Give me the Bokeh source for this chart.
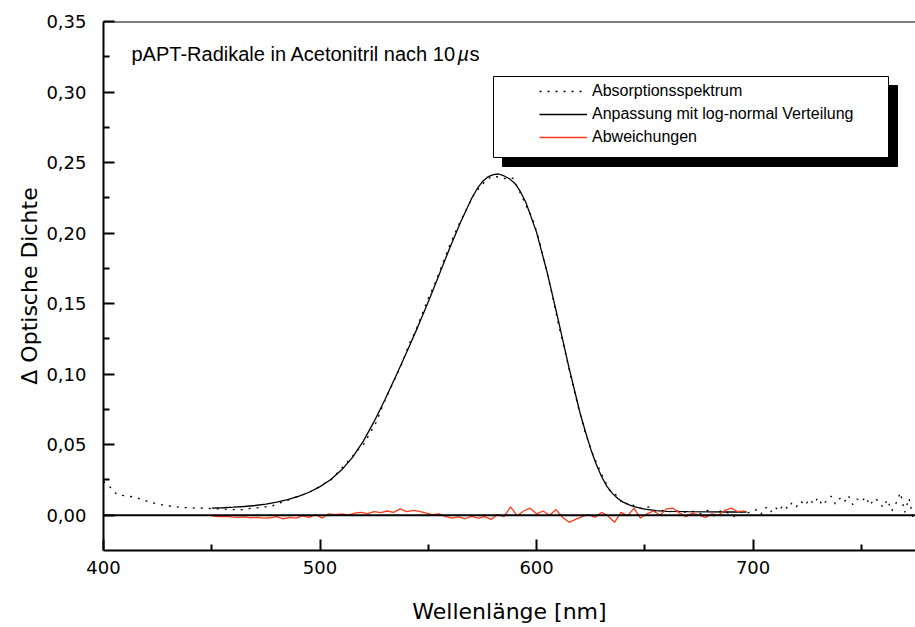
from bokeh.plotting import figure
from bokeh.models import (Range1d, FixedTicker, CustomJSTickFormatter, Span, Label,
                          BoxAnnotation, Legend, LegendItem, ColumnDataSource)
from bokeh.embed import file_html
from bokeh.resources import INLINE

# ---------------- data ----------------
SPEC_NM = list(range(400, 700, 3)) + list(range(700, 776, 2))
SPEC_OD = [
    0.0240, 0.0200, 0.0150, 0.0140, 0.0135, 0.0125, 0.0110, 0.0095, 0.0083, 0.0074,
    0.0066, 0.0060, 0.0056, 0.0053, 0.0051, 0.0050, 0.0048, 0.0046, 0.0044, 0.0042,
    0.0040, 0.0037, 0.0045, 0.0050, 0.0055, 0.0060, 0.0066, 0.0085, 0.0100, 0.0118,
    0.0135, 0.0150, 0.0172, 0.0196, 0.0225, 0.0250, 0.0300, 0.0350, 0.0400, 0.0455,
    0.0500, 0.0580, 0.0660, 0.0780, 0.0880, 0.0980, 0.1080, 0.1210, 0.1300, 0.1420,
    0.1540, 0.1640, 0.1760, 0.1880, 0.1990, 0.2090, 0.2180, 0.2270, 0.2330, 0.2380,
    0.2405, 0.2395, 0.2385, 0.2390, 0.2300, 0.2200, 0.2110, 0.1960, 0.1770, 0.1580,
    0.1360, 0.1170, 0.0970, 0.0780, 0.0610, 0.0470, 0.0360, 0.0260, 0.0170, 0.0140,
    0.0075, 0.0090, 0.0055, 0.0045, 0.0060, 0.0030, 0.0035, 0.0020, 0.0040, 0.0015,
    0.0030, 0.0025, 0.0010, 0.0035, -0.0005, 0.0030, 0.0020, -0.0010, 0.0025, 0.0015,
    # 700 .. 774 nm, 2 nm steps (noisy tail)
    0.0025, 0.0045, 0.0010, 0.0055, 0.0020, 0.0060, 0.0030, 0.0075, 0.0045, 0.0090,
    0.0060, 0.0100, 0.0070, 0.0115, 0.0080, 0.0125, 0.0070, 0.0105, 0.0135, 0.0080,
    0.0120, 0.0090, 0.0140, 0.0075, 0.0115, 0.0095, 0.0130, 0.0070, 0.0120, 0.0100,
    0.0055, 0.0110, 0.0030, 0.0085, 0.0160, 0.0020, 0.0120, -0.0030,
]

FIT_NM = [450, 455, 460, 465, 470, 475, 480, 485, 490, 495,
          500, 505, 510, 515, 520, 525, 530, 535, 540, 545,
          550, 555, 560, 565, 570, 572.5, 575, 577.5, 580, 582.5,
          585, 587.5, 590, 592.5, 595, 600, 605, 610, 615, 620,
          622.5, 625, 627.5, 630, 632.5, 635, 637.5, 640, 642.5, 645,
          650, 655, 660, 670, 680, 690, 697]
FIT_OD = [0.0050, 0.0053, 0.0057, 0.0062, 0.0069, 0.0079, 0.0093, 0.0111, 0.0133, 0.0163,
          0.0203, 0.0253, 0.0322, 0.0410, 0.0525, 0.0665, 0.0820, 0.0985, 0.1155, 0.1330,
          0.1513, 0.1705, 0.1898, 0.2080, 0.2245, 0.2313, 0.2365, 0.2398, 0.2415, 0.2419,
          0.2405, 0.2385, 0.2352, 0.2295, 0.2220, 0.2005, 0.1715, 0.1385, 0.1045, 0.0730,
          0.0595, 0.0470, 0.0363, 0.0275, 0.0205, 0.0155, 0.0119, 0.0093, 0.0075, 0.0061,
          0.0043, 0.0032, 0.0027, 0.0025, 0.0024, 0.0023, 0.0023]

RES_NM = list(range(450, 697, 3))
RES_OD = [
    -0.0005, -0.0010, -0.0008, -0.0012, -0.0015, -0.0012, -0.0018, -0.0015, -0.0020, -0.0018,
    -0.0010, -0.0025, -0.0015, -0.0020, -0.0005, -0.0015, 0.0005, -0.0020, 0.0010, 0.0005,
    0.0010, 0.0000, 0.0015, 0.0020, 0.0012, 0.0025, 0.0018, 0.0030, 0.0020, 0.0045,
    0.0025, 0.0035, 0.0028, 0.0015, 0.0005, 0.0010, -0.0010, -0.0020, -0.0012, -0.0025,
    -0.0008, -0.0020, -0.0010, -0.0030, 0.0005, -0.0010, 0.0060, -0.0005, 0.0030, 0.0050,
    0.0010, 0.0030, 0.0000, 0.0040, -0.0015, -0.0050, -0.0030, -0.0010, 0.0005, -0.0015,
    0.0020, -0.0005, -0.0050, 0.0020, -0.0005, 0.0050, -0.0020, 0.0010, 0.0030, 0.0000,
    0.0045, 0.0050, 0.0015, -0.0010, 0.0015, 0.0000, -0.0015, 0.0010, 0.0000, 0.0035,
    0.0050, 0.0025, 0.0030,
]

X_TICKS = [400, 500, 600, 700]
X_MINOR = [450, 550, 650, 750]
Y_TICKS = [0.00, 0.05, 0.10, 0.15, 0.20, 0.25, 0.30, 0.35]
Y_MINOR = [0.025, 0.075, 0.125, 0.175, 0.225, 0.275, 0.325]

LABELS = ["Absorptionsspektrum", "Anpassung mit log-normal Verteilung", "Abweichungen"]
TITLE_MAIN = "pAPT-Radikale in Acetonitril nach 10"
TITLE_MU = "\u00b5"
TITLE_END = "s"

assert len(SPEC_NM) == len(SPEC_OD)
assert len(FIT_NM) == len(FIT_OD)
assert len(RES_NM) == len(RES_OD)

X0, X1 = 400, 775
Y0, Y1 = -0.025, 0.35

p = figure(width=915, height=627, x_range=Range1d(X0, X1), y_range=Range1d(Y0, Y1),
           output_backend="svg", toolbar_location=None,
           min_border_left=103, min_border_right=0, min_border_top=21, min_border_bottom=77)
p.outline_line_color = None
p.xgrid.visible = False
p.ygrid.visible = False
p.background_fill_color = "white"
p.border_fill_color = "white"

TICK_FONT = "DejaVu Sans"
for ax in (p.xaxis[0], p.yaxis[0]):
    ax.axis_line_width = 2
    ax.axis_line_color = "black"
    ax.major_tick_in = 11
    ax.major_tick_out = 0
    ax.minor_tick_in = 6
    ax.minor_tick_out = 0
    ax.major_tick_line_width = 2
    ax.minor_tick_line_width = 2
    ax.major_label_text_font = TICK_FONT
    ax.major_label_text_font_size = "18px"
    ax.major_label_text_color = "black"
    ax.axis_label_text_font = "DejaVu Sans"
    ax.axis_label_text_font_size = "22px"
    ax.axis_label_text_font_style = "normal"
    ax.axis_label_text_color = "black"

p.xaxis.ticker = FixedTicker(ticks=X_TICKS, minor_ticks=X_MINOR)
p.yaxis.ticker = FixedTicker(ticks=Y_TICKS, minor_ticks=Y_MINOR)
p.yaxis.formatter = CustomJSTickFormatter(code="return tick.toFixed(2).replace('.', ',');")
p.xaxis.major_label_standoff = 10
p.yaxis.major_label_standoff = 17
p.xaxis.axis_label = "Wellenlänge [nm]"
p.yaxis.axis_label = "\u0394 Optische Dichte"
p.xaxis.axis_label_standoff = 22
p.yaxis.axis_label_standoff = 1

# frame top border and zero line
p.add_layout(Span(location=Y1, dimension="width", line_color="black", line_width=2))
p.add_layout(Span(location=0, dimension="width", line_color="black", line_width=2))

spec_src = ColumnDataSource(dict(x=SPEC_NM, y=SPEC_OD))
fit_src = ColumnDataSource(dict(x=FIT_NM, y=FIT_OD))
res_src = ColumnDataSource(dict(x=RES_NM, y=RES_OD))

r_spec = p.line("x", "y", source=spec_src, line_color="black", line_width=1.3, line_dash="2 6")
r_fit = p.line("x", "y", source=fit_src, line_color="black", line_width=1.3)
r_res = p.line("x", "y", source=res_src, line_color="#ff3a1a", line_width=1.3)

# legend box with drop shadow (page pixel -> data helpers)
FRAME_L, FRAME_R, FRAME_T, FRAME_B = 103, 915, 21, 550
def nm(px):
    return X0 + (px - FRAME_L) * (X1 - X0) / (FRAME_R - FRAME_L)
def od(py):
    return Y1 - (py - FRAME_T) * (Y1 - Y0) / (FRAME_B - FRAME_T)

p.add_layout(BoxAnnotation(left=nm(502), right=nm(897), top=od(85), bottom=od(166),
                           fill_color="black", fill_alpha=1, line_color="black", line_alpha=1))
p.add_layout(BoxAnnotation(left=nm(493), right=nm(888), top=od(76), bottom=od(157),
                           fill_color="white", fill_alpha=1, line_color="black",
                           line_alpha=1, line_width=1))

legend = Legend(items=[LegendItem(label=LABELS[0], renderers=[r_spec]),
                       LegendItem(label=LABELS[1], renderers=[r_fit]),
                       LegendItem(label=LABELS[2], renderers=[r_res])],
                location=(436, 403), border_line_color=None, background_fill_alpha=0,
                padding=5, margin=0, spacing=3, glyph_width=48, glyph_height=20,
                label_height=20, label_standoff=5, label_text_font="Liberation Sans",
                label_text_font_size="16px", label_text_color="black")
p.add_layout(legend, "center")

# title inside the plot
TFONT = "Liberation Sans"
p.add_layout(Label(x=28, y=497, x_units="screen", y_units="screen", text=TITLE_MAIN,
                   text_font=TFONT, text_font_size="20px", text_color="black",
                   text_baseline="alphabetic"))
p.add_layout(Label(x=354, y=497, x_units="screen", y_units="screen", text=TITLE_MU,
                   text_font=TFONT, text_font_size="20px", text_font_style="italic",
                   text_color="black", text_baseline="alphabetic"))
p.add_layout(Label(x=366, y=497, x_units="screen", y_units="screen", text=TITLE_END,
                   text_font=TFONT, text_font_size="20px", text_color="black",
                   text_baseline="alphabetic"))

open("out.html", "w").write(file_html(p, INLINE))
